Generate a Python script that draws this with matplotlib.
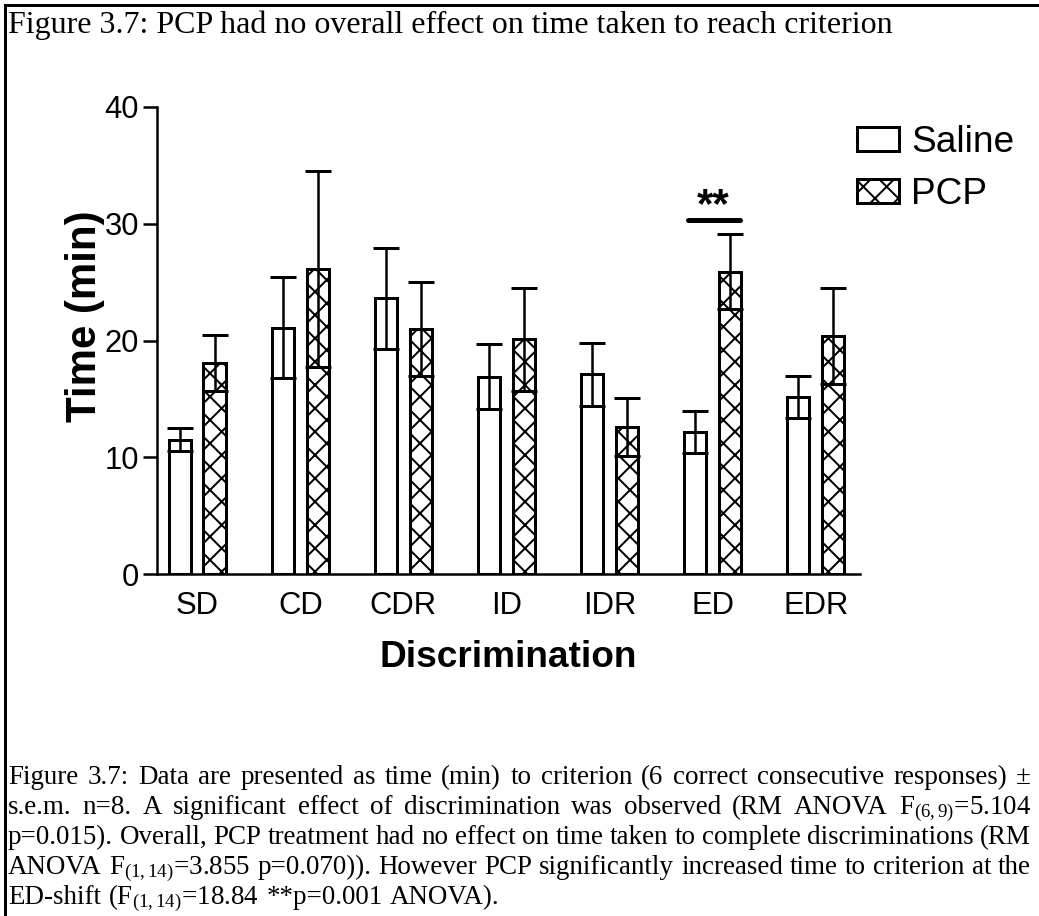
import numpy as np
import matplotlib
matplotlib.use('Agg')
import matplotlib.pyplot as plt
from matplotlib.lines import Line2D

# data (time to criterion, min, mean +/- s.e.m.)
categories = ['SD', 'CD', 'CDR', 'ID', 'IDR', 'ED', 'EDR']
saline = [11.5, 21.1, 23.6, 16.9, 17.1, 12.2, 15.2]
saline_sem = [1.0, 4.3, 4.3, 2.8, 2.7, 1.8, 1.8]
pcp = [18.1, 26.1, 21.0, 20.1, 12.6, 25.9, 20.4]
pcp_sem = [2.4, 8.4, 4.0, 4.4, 2.5, 3.2, 4.1]
yticks = [0, 10, 20, 30, 40]

title = 'Figure 3.7: PCP had no overall effect on time taken to reach criterion'
caption = [
    'Figure 3.7: Data are presented as time (min) to criterion (6 correct consecutive responses) \u00b1',
    's.e.m. n=8. A significant effect of discrimination was observed (RM ANOVA $\\mathrm{F}_{(6,9)}$=5.104',
    'p=0.015). Overall, PCP treatment had no effect on time taken to complete discriminations (RM',
    'ANOVA $\\mathrm{F}_{(1,14)}$=3.855 p=0.070)). However PCP significantly increased time to criterion at the',
    'ED-shift ($\\mathrm{F}_{(1,14)}$=18.84 **p=0.001 ANOVA).',
]

DPI = 140
W, H = 1039, 916


def fs(px):
    # pixels -> points
    return px * 72 / DPI


def split_words(line):
    # split on spaces outside of $...$
    words, cur, inmath = [], '', False
    for ch in line:
        if ch == '$':
            inmath = not inmath
        if ch == ' ' and not inmath:
            words.append(cur)
            cur = ''
        else:
            cur += ch
    words.append(cur)
    return words


plt.rcParams['font.family'] = ['Liberation Sans', 'DejaVu Sans']
plt.rcParams['mathtext.fontset'] = 'custom'
plt.rcParams['mathtext.rm'] = 'Liberation Serif'
plt.rcParams['mathtext.it'] = 'Liberation Serif:italic'
plt.rcParams['mathtext.bf'] = 'Liberation Serif:bold'
plt.rcParams['hatch.linewidth'] = fs(2)

fig = plt.figure(figsize=(W / DPI, H / DPI), dpi=DPI)
ax = fig.add_axes([157 / W, 1 - 574 / H, 703 / W, 467 / H])

x = np.arange(len(categories))
off = 0.168
width = 0.215
err_kw = dict(elinewidth=fs(2.5), capsize=fs(13), capthick=fs(3), ecolor='black')

b1 = ax.bar(x - off, saline, width, color='white', edgecolor='black',
            linewidth=fs(3), yerr=saline_sem, error_kw=err_kw, label='Saline')
b2 = ax.bar(x + off, pcp, width, color='white', edgecolor='black', hatch='xx',
            linewidth=fs(3), yerr=pcp_sem, error_kw=err_kw, label='PCP')

ax.set_xlim(-0.39, 6.43)
ax.set_ylim(0, 40)
ax.set_yticks(yticks)
ax.set_xticks(x)
ax.set_xticklabels(categories)
ax.tick_params(axis='y', length=fs(14), width=fs(2.5), pad=fs(4), labelsize=fs(31))
ax.tick_params(axis='x', length=0, pad=fs(17), labelsize=fs(31))
for s in ['top', 'right']:
    ax.spines[s].set_visible(False)
for s in ['left', 'bottom']:
    ax.spines[s].set_linewidth(fs(2.5))

ax.set_ylabel('Time (min)', fontsize=fs(42), fontweight='bold', va='center')
ax.yaxis.set_label_coords(-0.102, 0.551)
ax.set_xlabel('Discrimination', fontsize=fs(37), fontweight='bold', va='baseline')
ax.xaxis.set_label_coords(0.5, -0.199)

# significance marker at ED
ax.plot([4.758, 5.265], [30.3, 30.3], color='black', lw=fs(5), solid_capstyle='round')
ax.text(5.01, 30.6, '**', ha='center', va='baseline', fontsize=fs(42), fontweight='bold')

fig.legend(handles=[b1, b2], loc='upper left',
           bbox_to_anchor=(857 / W, 1 - 125 / H), bbox_transform=fig.transFigure,
           frameon=False, fontsize=fs(37), handlelength=1.135, handleheight=0.62,
           handletextpad=0.32, labelspacing=0.45, borderpad=0, borderaxespad=0)

# border lines
fig.add_artist(Line2D([4.5 / W, 4.5 / W], [0, 1 - 5 / H], transform=fig.transFigure,
                      color='black', lw=fs(3)))
fig.add_artist(Line2D([4.5 / W, 1], [1 - 5 / H, 1 - 5 / H], transform=fig.transFigure,
                      color='black', lw=fs(3)))

fig.text(8 / W, 1 - 33 / H, title, family='Liberation Serif', fontsize=fs(32),
         va='baseline', ha='left')

# justified caption: pick a size so the longest line still fits with small gaps
renderer = fig.canvas.get_renderer()
x0, x1 = 8, 1031
baselines = [784, 814, 844, 874, 904]
probe = 29
sizes = []
for line in caption[:-1]:
    words = split_words(line)
    tmp = [fig.text(0, 0, w, family='Liberation Serif', fontsize=fs(probe)) for w in words]
    tot = sum(t.get_window_extent(renderer).width for t in tmp) / probe
    for t in tmp:
        t.remove()
    sizes.append((x1 - x0) / (tot + 0.24 * (len(words) - 1)))
cap_px = min(29, min(sizes))

for i, line in enumerate(caption):
    words = split_words(line)
    texts = [fig.text(0, 1 - baselines[i] / H, w, family='Liberation Serif',
                      fontsize=fs(cap_px), va='baseline', ha='left') for w in words]
    widths = [t.get_window_extent(renderer).width for t in texts]
    if i == len(caption) - 1:
        gap = 0.27 * cap_px
    else:
        gap = (x1 - x0 - sum(widths)) / (len(words) - 1)
    xp = x0
    for t, wd in zip(texts, widths):
        t.set_x(xp / W)
        xp += wd + gap

fig.savefig('out.png', dpi=DPI)
